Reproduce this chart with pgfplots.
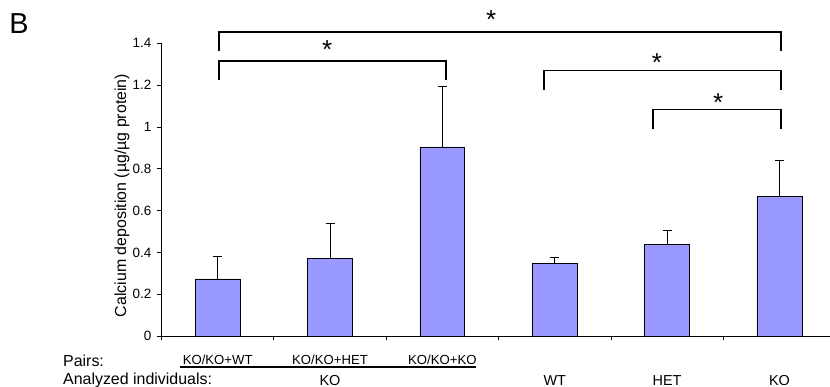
\documentclass[border=0pt]{standalone}
\usepackage{pgfplots}
\pgfplotsset{compat=1.18}
\usepackage{fontspec}
\setmainfont{Liberation Sans}
\definecolor{barfill}{HTML}{9999FF}
\newcommand{\fs}[1]{\fontsize{#1}{#1}\selectfont}
\begin{document}
\begin{tikzpicture}
\begin{axis}[
  scale only axis,
  width=668.5bp, height=292.7bp,
  xmin=-0.5, xmax=5.45, ymin=0, ymax=1.4,
  axis x line=bottom, axis y line=left,
  axis line style={-, black, line width=0.9bp},
  ytick={0,0.2,0.4,0.6,0.8,1,1.2,1.4},
  yticklabels={0,0.2,0.4,0.6,0.8,1,1.2,1.4},
  xtick={-0.5,0.5,1.5,2.5,3.5,4.5},
  xticklabels={},
  tick align=outside,
  major tick length=4bp,
  tick style={black, line width=0.8bp},
  yticklabel style={font=\fs{13.5}, inner sep=0pt, xshift=-6bp},
  /pgf/number format/assume math mode=true,
  clip=false,
]
\coordinate (O) at (rel axis cs:0,0);
\addplot[ybar, bar width=0.4, fill=barfill, draw=black, line width=0.8bp,
  error bars/.cd, y dir=plus, y explicit,
  error bar style={black, line width=0.8bp},
  error mark options={black, line width=0.8bp, mark size=4.5bp, rotate=90}]
  coordinates {
  (0,0.273) +- (0,0.110)
  (1,0.370) +- (0,0.169)
  (2,0.904) +- (0,0.289)
  (3,0.348) +- (0,0.028)
  (4,0.440) +- (0,0.067)
  (5,0.666) +- (0,0.174)
  };
% significance brackets
\draw[line width=1.8bp] (axis cs:0.009,1.365) |- (axis cs:5.016,1.455) -- (axis cs:5.016,1.365);
\draw[line width=1.8bp] (axis cs:0.009,1.225) |- (axis cs:2.033,1.316) -- (axis cs:2.033,1.225);
\draw[line width=1.8bp] (axis cs:2.903,1.177) |- (axis cs:5.016,1.270) -- (axis cs:5.016,1.177);
\draw[line width=1.8bp] (axis cs:3.874,0.990) |- (axis cs:5.016,1.083) -- (axis cs:5.016,0.990);
\node[anchor=base, inner sep=0pt, font=\fs{26}] at (axis cs:2.434,1.471) {*};
\node[anchor=base, inner sep=0pt, font=\fs{26}] at (axis cs:0.974,1.327) {*};
\node[anchor=base, inner sep=0pt, font=\fs{26}] at (axis cs:3.910,1.265) {*};
\node[anchor=base, inner sep=0pt, font=\fs{26}] at (axis cs:4.455,1.072) {*};
% y label
\node[rotate=90, inner sep=0pt, font=\fs{16}] at ([xshift=-39.5bp]rel axis cs:0,0.48) {Calcium deposition (µg/µg protein)};
% panel letter
\node[anchor=base west, inner sep=0pt, font=\fs{29}] at (axis cs:-1.855,1.448) {B};
% bottom labels
\node[anchor=base west, inner sep=0pt, font=\fs{16}] at (axis cs:-1.377,-0.147) {Pairs:};
\node[anchor=base west, inner sep=0pt, font=\fs{16}] at (axis cs:-1.377,-0.234) {Analyzed individuals:};
\node[anchor=base, inner sep=0pt, font=\fs{13.2}] at (axis cs:0,-0.134) {KO/KO+WT};
\node[anchor=base, inner sep=0pt, font=\fs{13.2}] at (axis cs:1,-0.134) {KO/KO+HET};
\node[anchor=base, inner sep=0pt, font=\fs{13.2}] at (axis cs:2,-0.134) {KO/KO+KO};
\draw[line width=2bp] (axis cs:-0.335,-0.146) -- (axis cs:2.302,-0.146);
\node[anchor=base, inner sep=0pt, font=\fs{14.5}] at (axis cs:1,-0.235) {KO};
\node[anchor=base, inner sep=0pt, font=\fs{14.5}] at (axis cs:3,-0.235) {WT};
\node[anchor=base, inner sep=0pt, font=\fs{14.5}] at (axis cs:4,-0.235) {HET};
\node[anchor=base, inner sep=0pt, font=\fs{14.5}] at (axis cs:5,-0.235) {KO};
\end{axis}
\pgfresetboundingbox
\path[use as bounding box] ([xshift=-161.5bp,yshift=-51bp]O) rectangle ++(830bp,387bp);
\end{tikzpicture}
\end{document}
